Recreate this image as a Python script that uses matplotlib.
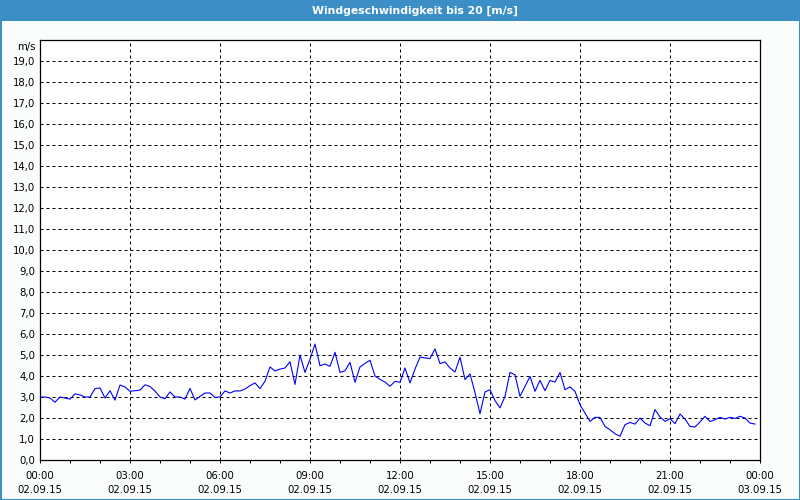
import matplotlib
matplotlib.use("Agg")
import matplotlib.pyplot as plt
import matplotlib.dates as mdates
from matplotlib.patches import Rectangle
import pandas as pd

title = "Windgeschwindigkeit bis 20 [m/s]"
unit_label = "m/s"
start_time = "2015-09-02 00:00"
end_time = "2015-09-03 00:00"
sample_freq = "10min"

# wind speed in m/s, one value every 10 minutes from 00:00 to 23:50
wind_speed = [
    3.00, 3.00, 2.95, 2.75, 3.00, 2.95, 2.90, 3.15, 3.10, 3.00, 3.00, 3.40,
    3.43, 2.95, 3.30, 2.85, 3.57, 3.48, 3.27, 3.30, 3.33, 3.58, 3.50, 3.28,
    3.00, 2.92, 3.24, 3.00, 3.00, 2.90, 3.41, 2.86, 3.03, 3.19, 3.19, 2.98,
    3.00, 3.29, 3.19, 3.29, 3.29, 3.38, 3.54, 3.67, 3.40, 3.75, 4.43, 4.24,
    4.33, 4.38, 4.68, 3.60, 5.00, 4.17, 4.80, 5.52, 4.49, 4.57, 4.46, 5.13,
    4.17, 4.25, 4.65, 3.70, 4.43, 4.60, 4.75, 4.00, 3.84, 3.71, 3.51, 3.75,
    3.70, 4.38, 3.67, 4.33, 4.90, 4.86, 4.83, 5.29, 4.59, 4.67, 4.38, 4.19,
    4.90, 3.83, 4.10, 3.20, 2.21, 3.24, 3.35, 2.83, 2.48, 3.03, 4.17, 4.06,
    3.03, 3.51, 3.98, 3.27, 3.79, 3.30, 3.79, 3.71, 4.17, 3.35, 3.48, 3.27,
    2.63, 2.24, 1.84, 2.03, 2.03, 1.60, 1.44, 1.25, 1.13, 1.68, 1.79, 1.71,
    2.00, 1.76, 1.63, 2.40, 2.05, 1.84, 1.97, 1.73, 2.19, 1.95, 1.60, 1.57,
    1.81, 2.08, 1.83, 1.92, 2.03, 1.95, 2.03, 1.98, 2.08, 2.00, 1.76, 1.71,
]

x_tick_times = ["2015-09-02 00:00", "2015-09-02 03:00", "2015-09-02 06:00",
                "2015-09-02 09:00", "2015-09-02 12:00", "2015-09-02 15:00",
                "2015-09-02 18:00", "2015-09-02 21:00", "2015-09-03 00:00"]
x_tick_labels = ["00:00\n02.09.15", "03:00\n02.09.15", "06:00\n02.09.15",
                 "09:00\n02.09.15", "12:00\n02.09.15", "15:00\n02.09.15",
                 "18:00\n02.09.15", "21:00\n02.09.15", "00:00\n03.09.15"]
y_ticks = list(range(0, 20))
y_tick_labels = [f"{v},0" for v in y_ticks]

times = pd.date_range(start_time, periods=len(wind_speed), freq=sample_freq)

BLUE = "#3c8fc6"
FS = 7.3

fig = plt.figure(figsize=(8, 5), dpi=100, facecolor="#fbfdfd")
# title bar
fig.patches.append(Rectangle((0, 479 / 500), 1, 21 / 500, transform=fig.transFigure,
                             facecolor=BLUE, edgecolor="none", zorder=0))
# thin blue frame around the whole picture
fig.patches.append(Rectangle((0, 0), 1, 1, transform=fig.transFigure,
                             facecolor="none", edgecolor=BLUE, linewidth=2.2,
                             zorder=1))
fig.text(415 / 800, 1 - 11 / 500, title, color="white", fontsize=7.8,
         fontweight="bold", ha="center", va="center")

ax = fig.add_axes([40 / 800, 40 / 500, 720 / 800, 420 / 500])
ax.set_facecolor("white")
ax.plot(times, wind_speed, color="#0000ff", linewidth=0.8, zorder=3)

ax.set_xlim(pd.Timestamp(start_time), pd.Timestamp(end_time))
ax.set_ylim(0, 20)

ax.set_xticks(pd.to_datetime(x_tick_times))
ax.set_xticklabels(x_tick_labels, fontsize=FS)
ax.xaxis.set_minor_locator(mdates.HourLocator(interval=1))
ax.set_yticks(y_ticks)
ax.set_yticklabels(y_tick_labels, fontsize=FS)
for tl in ax.get_xticklabels():
    tl.set_linespacing(1.55)

ax.tick_params(axis="x", which="both", direction="out", length=2.3, width=0.72,
               color="black", pad=5.5)
ax.tick_params(axis="y", which="both", length=0, pad=3.5)

ax.grid(True, which="major", color="black", linewidth=0.72,
        linestyle=(0, (3, 3)), zorder=1)
for sp in ax.spines.values():
    sp.set_color("black")
    sp.set_linewidth(0.9)

ax.text(-0.006, (460 - 47) / 420, unit_label, transform=ax.transAxes,
        ha="right", va="center", fontsize=FS)

fig.savefig("out.png", dpi=100, facecolor=fig.get_facecolor())
